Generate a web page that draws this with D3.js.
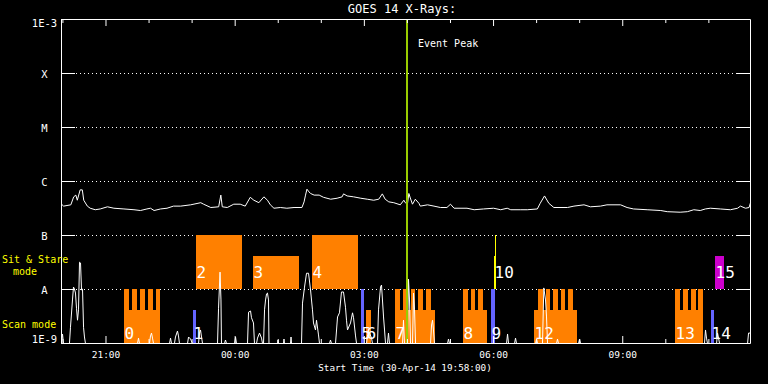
<!DOCTYPE html>
<html><head><meta charset="utf-8">
<script src="https://cdn.jsdelivr.net/npm/d3@7"></script>
<style>
html,body{margin:0;padding:0;background:#000;}
svg{display:block;}
text{font-family:"DejaVu Sans Mono","Liberation Mono",monospace;}
</style></head><body>
<svg id="c" width="768" height="384"></svg>
<script>
// ---------- DATA ----------
const startTime = new Date(Date.UTC(2014, 3, 30, 19, 58, 0));
const spanMinutes = 960;
const eventPeakMinute = 482;

const yLevels = [1e-9, 1e-8, 1e-7, 1e-6, 1e-5, 1e-4, 1e-3];
const yLevelLabels = ["1E-9", "A", "B", "C", "M", "X", "1E-3"];

// GOES 14 long-channel flux: [minutes since start, W/m^2]
const goesSeries = [
 [0,3.8e-7],[3,3.5e-7],[13,3.7e-7],[17,5.2e-7],[20,5.6e-7],[22,4.5e-7],[26,7.0e-7],[29,7.0e-7],[31,4.5e-7],[36,3.5e-7],
 [40,3.2e-7],[47,3.0e-7],[54,3.1e-7],[64,3.4e-7],[73,3.2e-7],[87,3.1e-7],[101,3.0e-7],[110,2.9e-7],[119,3.1e-7],[124,3.2e-7],
 [129,2.9e-7],[138,3.1e-7],[147,3.2e-7],[156,3.5e-7],[166,3.5e-7],[180,3.7e-7],[194,4.05e-7],[198,3.8e-7],[208,3.3e-7],[219,3.4e-7],
 [222,5.6e-7],[224,3.4e-7],[231,3.3e-7],[240,3.8e-7],[249,3.8e-7],[256,3.5e-7],[263,5.1e-7],[268,4.5e-7],[275,4.05e-7],[282,5.2e-7],
 [287,4.5e-7],[291,3.7e-7],[296,3.2e-7],[305,3.3e-7],[314,3.2e-7],[324,3.3e-7],[335,3.3e-7],[338,4.2e-7],[340,5.6e-7],[342,7.2e-7],
 [345,6.4e-7],[347,6.0e-7],[352,5.6e-7],[359,5.6e-7],[365,5.1e-7],[375,4.7e-7],[384,4.9e-7],[391,5.2e-7],[393,5.9e-7],[398,5.4e-7],
 [407,5.2e-7],[417,4.9e-7],[426,4.7e-7],[435,4.5e-7],[442,4.7e-7],[447,5.9e-7],[451,4.7e-7],[456,4.2e-7],[463,4.05e-7],[472,3.7e-7],
 [477,4.5e-7],[479,4.05e-7],[482,3.8e-7],[484,6.0e-7],[486,4.95e-7],[489,3.8e-7],[493,4.7e-7],[498,3.95e-7],[500,3.5e-7],[510,3.7e-7],
 [519,3.5e-7],[528,3.3e-7],[537,3.3e-7],[542,3.8e-7],[547,3.2e-7],[565,3.2e-7],[575,3.0e-7],[588,3.1e-7],[602,3.2e-7],[612,3.0e-7],
 [621,3.2e-7],[626,3.0e-7],[640,3.0e-7],[649,3.0e-7],[663,3.1e-7],[667,3.95e-7],[673,5.4e-7],[679,3.95e-7],[686,3.3e-7],[705,3.3e-7],
 [714,3.5e-7],[728,3.7e-7],[737,3.4e-7],[751,3.5e-7],[760,3.7e-7],[779,3.7e-7],[788,3.3e-7],[797,3.1e-7],[816,3.0e-7],[835,2.9e-7],
 [844,2.76e-7],[862,2.7e-7],[872,2.76e-7],[881,3.0e-7],[890,2.9e-7],[897,3.1e-7],[904,3.2e-7],[918,3.1e-7],[932,3.0e-7],[942,3.2e-7],
 [946,3.5e-7],[953,3.2e-7],[958,3.3e-7],[960,4.05e-7]
];

// Lower white trace: [minutes since start, value on the same log axis]
const lowerSeries = [
 [0,1e-9],[1.4,1.5e-9],[2.8,1e-9],
 [11.1,1e-9],[12.5,2.0e-9],[15.3,6.4e-9],[16.7,1.11e-8],[18.1,1.02e-8],[19.5,8.6e-9],[20.9,4.5e-9],[22.3,2.7e-9],[23.7,4.2e-9],
 [25.1,3.2e-8],[26.5,3.1e-8],[27.9,9.8e-9],[29.3,1.02e-8],[30.7,2.0e-9],[32.0,1.32e-9],[33.4,1e-9],
 [105.9,1e-9],[107.3,1.26e-9],[108.7,1e-9],
 [122.6,1e-9],[124.0,1.38e-9],[125.4,1.56e-9],[126.8,1.26e-9],[128.2,1e-9],
 [150.5,1e-9],[151.9,1.26e-9],[153.3,1e-9],
 [157.4,1e-9],[158.8,1.32e-9],[161.6,1.7e-9],[163.0,1.38e-9],[164.4,1e-9],
 [175.6,1e-9],[177.0,1.32e-9],[179.8,1.21e-9],[182.5,1e-9],
 [190.9,1e-9],[192.3,1.56e-9],[193.7,1.78e-9],[195.1,1.32e-9],[196.5,1e-9],
 [217.4,1e-9],[218.8,4.5e-9],[220.9,2.1e-8],[222.2,6.4e-9],[222.9,1e-9],
 [227.1,1e-9],[228.5,1.16e-9],[229.9,1e-9],
 [241.1,1e-9],[242.5,1.32e-9],[243.8,1e-9],
 [259.2,1e-9],[260.6,3.8e-9],[263.4,4.0e-9],[264.7,3.0e-9],[267.5,2.4e-9],[268.9,1e-9],
 [271.7,1e-9],[273.1,1.26e-9],[275.9,1.56e-9],[278.7,1.26e-9],[280.1,1e-9],
 [281.5,1e-9],[282.9,4.2e-9],[284.3,6.4e-9],[285.7,8.3e-9],[287.0,8.6e-9],[288.4,6.4e-9],[289.1,1e-9],
 [300.9,1e-9],[301.6,1.16e-9],[302.4,1e-9],
 [309.3,1e-9],[310.0,1.21e-9],[310.7,1e-9],
 [319.1,1e-9],[319.8,1.32e-9],[320.5,1e-9],
 [334.4,1e-9],[335.8,5.6e-9],[338.6,1.11e-8],[341.4,2.0e-8],[344.2,2.0e-8],[347.0,9.8e-9],[349.7,4.2e-9],[351.1,2.4e-9],
 [353.9,1.78e-9],[355.3,2.7e-9],[358.1,1.44e-9],[359.5,1e-9],
 [373.4,1e-9],[374.8,1.16e-9],[376.2,1e-9],
 [381.8,1e-9],[384.6,3.1e-9],[387.3,3.7e-9],[390.1,9.0e-9],[392.9,9.0e-9],[395.7,4.7e-9],[397.1,2.7e-9],[398.5,1.78e-9],
 [402.7,2.4e-9],[405.5,3.7e-9],[406.9,3.0e-9],[409.7,1.38e-9],[411.1,1e-9],
 [425.0,1e-9],[426.4,1.44e-9],[429.2,1.56e-9],[432.0,1.26e-9],[433.3,1e-9],
 [440.3,1e-9],[441.7,4.2e-9],[444.5,1.11e-8],[445.9,1.21e-8],[448.7,3.1e-9],[450.1,1.78e-9],[451.5,1e-9],
 [454.2,1e-9],[455.6,1.56e-9],[457.0,1e-9],
 [475.2,1e-9],[476.5,2.7e-9],[477.9,1e-9],
 [482.1,1e-9],[483.5,1.56e-8],[484.9,6.4e-9],[486.3,1e-9],
 [489.1,1e-9],[490.5,8.6e-9],[491.9,4.2e-9],[493.3,1e-9],
 [514.2,1e-9],[515.6,2.2e-9],[517.0,2.7e-9],[518.3,1.78e-9],[519.7,1e-9],
 [537.9,1e-9],[539.2,1.21e-9],[540.6,1e-9],
 [620.1,1e-9],[621.5,1.5e-9],[622.9,1e-9],
 [631.2,1e-9],[632.6,1.26e-9],[634.0,1e-9],
 [660.5,1e-9],[661.9,1.21e-9],[663.3,1e-9],
 [670.2,1e-9],[672.0,1.07e-8],[674.4,6.4e-9],[675.8,3.1e-9],[677.2,1e-9],
 [689.7,1e-9],[691.1,1.21e-9],[692.5,1e-9],
 [720.4,1e-9],[721.8,1.21e-9],[723.2,1e-9],
 [895.9,1e-9],[897.3,1.78e-9],[898.7,1.26e-9],[900.1,1e-9],
 [912.7,1e-9],[914.1,1.56e-9],[915.5,1.26e-9],[916.9,1e-9],
 [955.9,1e-9],[957.3,1.56e-9],[960,1.56e-9]
];

// Scan-mode observations (band 1E-9 .. A)
const scanObs = [
 {id:0,  type:"raster", start:87.8,  end:137.9, level:4.1e-9, rasters:[[87.8,94.8],[98.9,105.9],[110.1,117.0],[121.2,128.2],[132.4,137.9]]},
 {id:1,  type:"calib",  start:183.9, end:188.1, level:4.1e-9, rasters:[]},
 {id:5,  type:"calib",  start:418.0, end:422.2, level:1e-8,   rasters:[]},
 {id:6,  type:"raster", start:425.0, end:432.0, level:4.1e-9, rasters:[]},
 {id:7,  type:"raster", start:465.4, end:521.1, level:4.1e-9, rasters:[[465.4,472.4],[476.5,483.5],[487.7,493.3],[497.4,504.4],[508.6,515.6]]},
 {id:8,  type:"raster", start:560.2, end:593.6, level:4.1e-9, rasters:[[560.2,567.1],[571.3,576.9],[581.0,588.0]]},
 {id:9,  type:"calib",  start:599.2, end:604.7, level:1e-8,   rasters:[]},
 {id:12, type:"raster", start:659.1, end:719.0, level:4.1e-9, rasters:[[664.6,671.6],[675.8,681.4],[685.5,692.5],[696.7,702.3],[706.4,713.4]]},
 {id:13, type:"raster", start:855.5, end:894.6, level:4.1e-9, rasters:[[855.5,862.5],[866.6,873.6],[877.8,884.8],[887.6,894.6]]},
 {id:14, type:"calib",  start:905.7, end:909.9, level:4.1e-9, rasters:[]}
];
const scanTop = 1e-8;

// Sit & stare observations (band A .. B)
const stareObs = [
 {id:2,    type:"stare",   start:188.1, end:252.2, level:1e-7},
 {id:3,    type:"stare",   start:267.5, end:331.6, level:4.1e-8},
 {id:4,    type:"stare",   start:349.7, end:413.8, level:1e-7},
 {id:10,   type:"flare",   start:603.3, end:606.1, level:4.1e-8},
 {id:null, type:"flare",   start:604.2, end:605.4, level:1e-7},
 {id:15,   type:"special", start:911.3, end:923.8, level:4.1e-8}
];

// ---------- DRAW ----------
const typeColor = {raster:"#ff8000", calib:"#6464ff", stare:"#ff8000", flare:"#ffff00", special:"#cc00cc"};
const t = m => new Date(startTime.getTime() + m * 60000);

const svg = d3.select("#c");
svg.append("rect").attr("width", 768).attr("height", 384).attr("fill", "#000");

const x = d3.scaleUtc().domain([startTime, t(spanMinutes)]).range([61, 750]);
const y = d3.scaleLog().domain([1e-9, 1e-3]).range([343, 19]);
const px = m => Math.round(x(t(m)));

// dotted grid
svg.append("g").selectAll("line").data(yLevels.slice(1, -1)).join("line")
  .attr("x1", 76).attr("x2", 736)
  .attr("y1", d => y(d) + 0.5).attr("y2", d => y(d) + 0.5)
  .attr("stroke", "#fff").attr("stroke-dasharray", "1,3");

// blocks
const blocks = svg.append("g").attr("shape-rendering", "crispEdges");
function rect(s, e, lo, hi, color) {
  const x0 = px(s), x1 = Math.max(px(e), x0 + 1);
  const y0 = Math.round(y(hi)), y1 = Math.round(y(lo));
  blocks.append("rect").attr("x", x0).attr("y", y0)
    .attr("width", x1 - x0).attr("height", y1 - y0).attr("fill", color);
}
scanObs.forEach(o => {
  rect(o.start, o.end, 1e-9, o.level, typeColor[o.type]);
  o.rasters.forEach(r => rect(r[0], r[1], 1e-9, scanTop, typeColor[o.type]));
});
stareObs.forEach(o => rect(o.start, o.end, 1e-8, o.level, typeColor[o.type]));

// data traces
const line = d3.line().x(d => x(t(d[0])) + 0.5).y(d => y(d[1]) + 0.5);
svg.append("path").datum(goesSeries).attr("d", line)
  .attr("fill", "none").attr("stroke", "#fff").attr("stroke-width", 1);
svg.append("path").datum(lowerSeries).attr("d", line)
  .attr("fill", "none").attr("stroke", "#fff").attr("stroke-width", 1);

// event peak
const ex = px(eventPeakMinute);
svg.append("rect").attr("x", ex - 1).attr("y", 19).attr("width", 2)
  .attr("height", y(1e-9) - y(1e-3) + 1).attr("fill", "#99cc00");
svg.append("text").attr("x", ex + 11).attr("y", 46.5).attr("fill", "#fff")
  .attr("font-size", 10).text("Event Peak");

// block labels
const lab = svg.append("g").attr("fill", "#fff").attr("font-size", 16);
scanObs.forEach(o => lab.append("text").attr("x", px(o.start) + 0.5)
  .attr("y", y(1e-9) - 4).text(o.id));
stareObs.filter(o => o.id !== null).forEach(o => lab.append("text")
  .attr("x", px(o.start) + 0.5).attr("y", y(1e-8) - 11).text(o.id));

// axes
const hourTicks = x.ticks(d3.utcHour.every(1));
const major = hourTicks.filter(d => d.getUTCHours() % 3 === 0);
const minor = hourTicks.filter(d => d.getUTCHours() % 3 !== 0);
function style(g) {
  g.selectAll("path,line").attr("stroke", "#fff");
  g.selectAll("text").attr("fill", "#fff");
}
svg.append("g").attr("transform", "translate(0,19)")
  .call(d3.axisTop(x).tickValues(major).tickSize(-7).tickSizeOuter(0).tickFormat(""))
  .call(style);
svg.append("g").attr("transform", "translate(0,19)")
  .call(d3.axisTop(x).tickValues(minor).tickSize(-4).tickSizeOuter(0).tickFormat(""))
  .call(g => g.select(".domain").remove()).call(style);
svg.append("g").attr("transform", "translate(0,343)")
  .call(d3.axisBottom(x).tickValues(major).tickSize(-7).tickSizeOuter(0)
    .tickPadding(8).tickFormat(d3.utcFormat("%H:%M")))
  .call(g => g.selectAll("text").attr("font-size", 9.5).attr("font-family", "DejaVu Sans Mono"))
  .call(style);
svg.append("g").attr("transform", "translate(0,343)")
  .call(d3.axisBottom(x).tickValues(minor).tickSize(-4).tickSizeOuter(0).tickFormat(""))
  .call(g => g.select(".domain").remove()).call(style);
svg.append("g").attr("transform", "translate(61,0)")
  .call(d3.axisLeft(y).tickValues(yLevels).tickSize(-14).tickSizeOuter(0).tickFormat(""))
  .call(style);
svg.append("g").attr("transform", "translate(750,0)")
  .call(d3.axisRight(y).tickValues(yLevels).tickSize(-14).tickSizeOuter(0).tickFormat(""))
  .call(style);

// y labels
svg.append("g").attr("fill", "#fff").attr("font-size", 10.5).attr("text-anchor", "middle")
  .selectAll("text").data(yLevels).join("text")
  .attr("x", 44.5)
  .attr("y", (d, i) => i === 0 ? y(d) : (i === yLevels.length - 1 ? y(d) + 8 : y(d) + 4.5))
  .text((d, i) => yLevelLabels[i]);

// titles
svg.append("text").attr("x", 402).attr("y", 13).attr("text-anchor", "middle")
  .attr("fill", "#fff").attr("font-size", 12).text("GOES 14 X-Rays:");
svg.append("text").attr("x", 405).attr("y", 371).attr("text-anchor", "middle")
  .attr("fill", "#fff").attr("font-size", 9.3)
  .text("Start Time (" + d3.utcFormat("%d-%b-%y %H:%M:%S")(startTime) + ")");

// mode legend
const leg = svg.append("g").attr("fill", "#ffff00").attr("font-size", 10);
leg.append("text").attr("x", 2).attr("y", 263).text("Sit & Stare");
leg.append("text").attr("x", 13).attr("y", 275).text("mode");
leg.append("text").attr("x", 2).attr("y", 328).text("Scan mode");
</script>
</body></html>
